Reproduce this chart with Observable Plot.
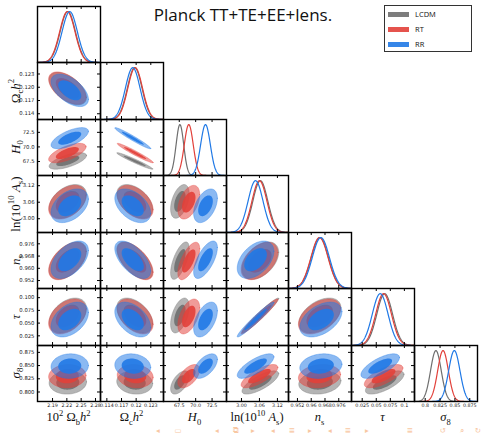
<!DOCTYPE html>
<html><head><meta charset="utf-8">
<script src="https://cdn.jsdelivr.net/npm/d3@7"></script>
<script src="https://cdn.jsdelivr.net/npm/@observablehq/plot@0.6"></script>
<style>
body{margin:0;background:#fff;}
#root{position:relative;width:485px;height:435px;overflow:hidden;background:#fff;}
.panel{position:absolute;}
.panel svg{overflow:visible;display:block;}
.xt{position:absolute;font-family:"Liberation Serif",serif;font-size:12.5px;color:#111;text-align:center;white-space:nowrap;line-height:1;}
.yt{position:absolute;font-family:"Liberation Serif",serif;font-size:13px;color:#111;white-space:nowrap;line-height:1;transform:translate(-50%,-50%) rotate(-90deg);}
sub,sup{font-size:68%;line-height:0;}
.title{position:absolute;left:133px;top:3px;width:220px;text-align:center;font-family:"Open Sans",sans-serif;font-size:17px;color:#111;white-space:nowrap;}
.legend{position:absolute;left:384px;top:5px;width:88px;height:47px;border:1px solid #333;background:#fff;box-sizing:border-box;}
.li{position:absolute;left:3px;height:10px;font-family:"Open Sans",sans-serif;font-size:7.5px;color:#111;}
.sw{position:absolute;left:0;top:2px;width:21px;height:5px;}
.lt{position:absolute;left:27px;top:-1px;}
.nav{position:absolute;top:427px;font-family:"DejaVu Sans",sans-serif;font-size:7.5px;line-height:1;color:#f8c7a3;transform:translateX(-50%);}
</style></head>
<body><div id="root"></div>
<script>
// ---------- data ----------
const models = ["LCDM", "RT", "RR"];
const modelColors = ["#6f6f6f", "#e2403a", "#2079e6"];

const paramKeys = ["ombh2x100", "omch2", "H0", "lnAs", "ns", "tau", "sigma8"];

// posterior means
const meanLCDM = [2.222, 0.1197, 67.6, 3.063, 0.9650, 0.065, 0.818];
const meanRT   = [2.221, 0.1198, 68.95, 3.060, 0.9648, 0.063, 0.830];
const meanRR   = [2.226, 0.1193, 71.5, 3.047, 0.9656, 0.057, 0.849];
// standard deviations
const sdLCDM = [0.016, 0.0015, 0.58, 0.025, 0.0050, 0.014, 0.0090];
const sdRT   = [0.016, 0.0015, 0.68, 0.025, 0.0050, 0.014, 0.0090];
const sdRR   = [0.016, 0.0015, 0.74, 0.025, 0.0050, 0.014, 0.0095];

// correlation coefficients (row param vs column param, lower triangle)
const corrRow1 = [-0.55];
const corrRow2 = [0.65, -0.97];
const corrRow3 = [0.40, -0.45, 0.45];
const corrRow4 = [0.50, -0.60, 0.65, 0.45];
const corrRow5 = [0.40, -0.45, 0.50, 0.97, 0.45];
const corrRow6 = [0.05, -0.10, 0.55, 0.75, 0.15, 0.70];

// axis ranges
const rangeLo = [2.1585, 0.1127, 65.1, 2.950, 0.9468, 0.006, 0.782];
const rangeHi = [2.2905, 0.1256, 74.7, 3.157, 0.9834, 0.118, 0.888];

// ticks
const tickVals = [
  [2.19, 2.22, 2.25, 2.28],
  [0.114, 0.117, 0.120, 0.123],
  [67.5, 70.0, 72.5],
  [3.00, 3.06, 3.12],
  [0.952, 0.960, 0.968, 0.976],
  [0.025, 0.050, 0.075, 0.100],
  [0.800, 0.825, 0.850, 0.875]
];
const xTickLabels = [
  ["2.19", "2.22", "2.25", "2.28"],
  ["0.114", "0.117", "0.12", "0.123"],
  ["67.5", "70.0", "72.5"],
  ["3.00", "3.06", "3.12"],
  ["0.952", "0.96", "0.968", "0.976"],
  ["0.025", "0.05", "0.075", "0.1"],
  ["0.8", "0.825", "0.85", "0.875"]
];
const yTickLabels = [
  [],
  ["0.114", "0.117", "0.120", "0.123"],
  ["67.5", "70.0", "72.5"],
  ["3.00", "3.06", "3.12"],
  ["0.952", "0.960", "0.968", "0.976"],
  ["0.025", "0.050", "0.075", "0.100"],
  ["0.800", "0.825", "0.850", "0.875"]
];
const axisTitles = [
  "10<sup>2</sup> Ω<sub>b</sub><i>h</i><sup>2</sup>",
  "Ω<sub>c</sub><i>h</i><sup>2</sup>",
  "<i>H</i><sub>0</sub>",
  "ln(10<sup>10</sup> <i>A</i><sub>s</sub>)",
  "<i>n</i><sub>s</sub>",
  "<i>τ</i>",
  "<i>σ</i><sub>8</sub>"
];
const titleText = "Planck TT+TE+EE+lens.";
const navSymbols = ["◂","▭","◂","⧉","▸","◂","≣","▸","◂","≣","▸","≣","↺","⌕","↻"];

// ---------- build ----------
const means = [meanLCDM, meanRT, meanRR];
const sds = [sdLCDM, sdRT, sdRR];
const corr = [[], corrRow1, corrRow2, corrRow3, corrRow4, corrRow5, corrRow6];
const r68 = Math.sqrt(-2 * Math.log(1 - 0.68));
const r95 = Math.sqrt(-2 * Math.log(1 - 0.95));

const root = document.getElementById("root");
const N = 7;
const gridLeft = 37, gridRight = 477, gridTop = 6, gridBottom = 401;
const colX = d3.range(N + 1).map(k => Math.round(gridLeft + k * (gridRight - gridLeft) / N));
const rowY = d3.range(N + 1).map(k => Math.round(gridTop + k * (gridBottom - gridTop) / N));

function ellipse(mx, my, sx, sy, rho, r) {
  const c = Math.sqrt(1 - rho * rho);
  return d3.range(0, 121).map(t => {
    const a = 2 * Math.PI * t / 120;
    const u = r * Math.cos(a), v = r * Math.sin(a);
    return {x: mx + sx * u, y: my + sy * (rho * u + c * v)};
  });
}

for (let i = 0; i < N; i++) {
  for (let j = 0; j <= i; j++) {
    const w = colX[j + 1] - colX[j];
    const h = rowY[i + 1] - rowY[i];
    const xd = [rangeLo[j], rangeHi[j]];
    let yd;
    const marks = [];
    if (i === j) {
      yd = [0, 1.1];
      models.forEach((m, k) => {
        const mu = means[k][j], sd = sds[k][j];
        const pts = d3.range(0, 201).map(t => {
          const x = xd[0] + (xd[1] - xd[0]) * t / 200;
          return {x, y: Math.exp(-0.5 * ((x - mu) / sd) ** 2)};
        });
        marks.push(Plot.line(pts, {x: "x", y: "y", stroke: modelColors[k], strokeWidth: 1.2, clip: true}));
      });
    } else {
      yd = [rangeLo[i], rangeHi[i]];
      const rho = corr[i][j];
      models.forEach((m, k) => {
        const mx = means[k][j], my = means[k][i], sx = sds[k][j], sy = sds[k][i];
        marks.push(Plot.line(ellipse(mx, my, sx, sy, rho, r95), {x: "x", y: "y", fill: modelColors[k], fillOpacity: 0.52, stroke: modelColors[k], strokeOpacity: 0.6, strokeWidth: 0.6, curve: "linear-closed", clip: true}));
        marks.push(Plot.line(ellipse(mx, my, sx, sy, rho, r68), {x: "x", y: "y", fill: modelColors[k], fillOpacity: 0.9, stroke: "none", curve: "linear-closed", clip: true}));
      });
      const yt = tickVals[i];
      marks.push(Plot.tickY(yt, {y: d => d, insetRight: w - 3, stroke: "#000", strokeWidth: 1}));
      marks.push(Plot.tickY(yt, {y: d => d, insetLeft: w - 3, stroke: "#000", strokeWidth: 1}));
    }
    const xt = tickVals[j];
    marks.push(Plot.tickX(xt, {x: d => d, insetTop: h - 3, stroke: "#000", strokeWidth: 1}));
    marks.push(Plot.tickX(xt, {x: d => d, insetBottom: h - 3, stroke: "#000", strokeWidth: 1}));
    marks.push(Plot.frame({stroke: "#000", strokeWidth: 1.4}));
    if (j === 0 && i > 0) {
      marks.push(Plot.text(tickVals[i], {y: d => d, text: (d, ix) => yTickLabels[i][ix], frameAnchor: "left", dx: -3, textAnchor: "end", fontSize: 5.3, fontFamily: "DejaVu Sans", fill: "#222"}));
    }
    if (i === N - 1) {
      marks.push(Plot.text(xt, {x: d => d, text: (d, ix) => xTickLabels[j][ix], frameAnchor: "bottom", dy: 5.5, fontSize: 4.8, fontFamily: "DejaVu Sans", fill: "#222"}));
    }
    const svg = Plot.plot({
      width: w, height: h, margin: 0,
      x: {domain: xd, axis: null},
      y: {domain: yd, axis: null},
      style: {overflow: "visible", background: "transparent"},
      marks
    });
    const div = document.createElement("div");
    div.className = "panel";
    div.style.left = colX[j] + "px";
    div.style.top = rowY[i] + "px";
    div.appendChild(svg);
    root.appendChild(div);
  }
}

// axis titles
for (let j = 0; j < N; j++) {
  const d = document.createElement("div");
  d.className = "xt";
  d.innerHTML = axisTitles[j];
  const cx = (colX[j] + colX[j + 1]) / 2;
  d.style.left = (cx - 40) + "px";
  d.style.width = "80px";
  d.style.top = "411px";
  root.appendChild(d);
}
for (let i = 1; i < N; i++) {
  const d = document.createElement("div");
  d.className = "yt";
  d.innerHTML = axisTitles[i];
  d.style.left = "15px";
  d.style.top = ((rowY[i] + rowY[i + 1]) / 2) + "px";
  root.appendChild(d);
}

// title
const t = document.createElement("div");
t.className = "title";
t.textContent = titleText;
root.appendChild(t);

// legend
const lg = document.createElement("div");
lg.className = "legend";
models.forEach((m, k) => {
  const it = document.createElement("div");
  it.className = "li";
  it.style.top = (4 + k * 15) + "px";
  it.innerHTML = `<div class="sw" style="background:${modelColors[k]};opacity:0.9"></div><div class="lt">${m}</div>`;
  lg.appendChild(it);
});
root.appendChild(lg);

// beamer navigation symbols
const navX = [158, 178, 217, 236, 253, 273, 292, 310, 330, 348, 367, 410, 443, 462, 478];
navSymbols.forEach((s, k) => {
  const d = document.createElement("div");
  d.className = "nav";
  d.textContent = s;
  d.style.left = navX[k] + "px";
  root.appendChild(d);
});
</script>
</body></html>
